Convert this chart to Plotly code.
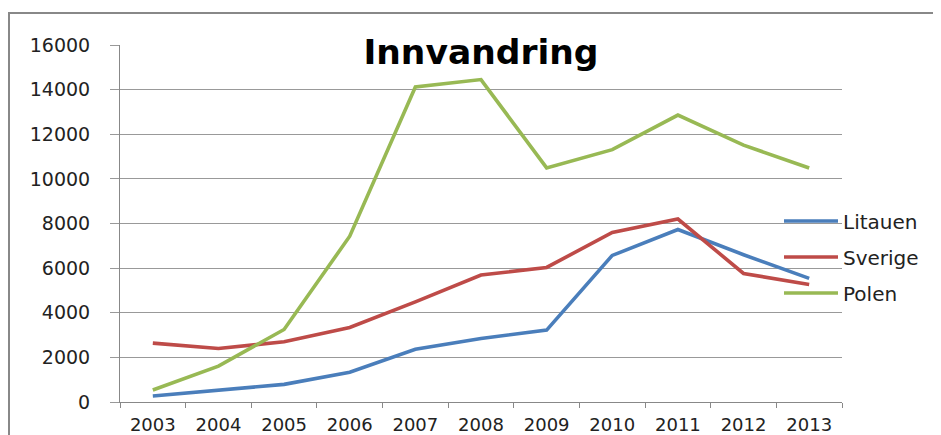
import plotly.graph_objects as go

years = ["2003", "2004", "2005", "2006", "2007", "2008", "2009", "2010", "2011", "2012", "2013"]
litauen = [270, 540, 790, 1330, 2360, 2850, 3220, 6570, 7730, 6600, 5540]
sverige = [2640, 2400, 2700, 3340, 4490, 5690, 6030, 7600, 8200, 5760, 5270]
polen = [540, 1610, 3250, 7430, 14120, 14450, 10490, 11310, 12860, 11510, 10490]
y_ticks = [0, 2000, 4000, 6000, 8000, 10000, 12000, 14000, 16000]
y_tick_text = [str(v) for v in y_ticks]

FONT = "DejaVu Sans"
# page offset of 8px (body margin) is compensated in the figure size/margins
W, H = 933, 427
ML, MR, MT, MB = 112, 99, 37, 33

fig = go.Figure()
for i, (name, vals, col) in enumerate([("Litauen", litauen, "#4A7EBB"),
                                       ("Sverige", sverige, "#BE4B48"),
                                       ("Polen", polen, "#98B954")]):
    fig.add_trace(go.Scatter(x=years, y=vals, name=name, mode="lines",
                             legendgroup=f"g{i}",
                             line=dict(color=col, width=3.6)))

fig.update_layout(
    width=W, height=H,
    margin=dict(l=ML, r=MR, t=MT, b=MB),
    paper_bgcolor="white", plot_bgcolor="white",
    title=dict(text="<b>Innvandring</b>", x=(ML + (W - MR)) / 2 / W, xanchor="center",
               y=1 - 44 / H, yanchor="middle",
               font=dict(family=FONT, size=34.5, color="black")),
    font=dict(family=FONT, size=19, color="#222"),
    showlegend=True,
    legend=dict(x=(779 - 120) / 722, y=(402 - 201.5) / 357, xanchor="left", yanchor="top",
                bgcolor="rgba(0,0,0,0)", font=dict(family=FONT, size=20, color="#222"),
                itemwidth=54, tracegroupgap=7, traceorder="grouped"),
    xaxis=dict(type="category", tickson="boundaries", ticks="outside", ticklen=5,
               tickcolor="#888", showline=True, linecolor="#888", linewidth=1,
               showgrid=False, range=[-0.5, 10.5], ticklabelstandoff=6,
               automargin=False,
               tickfont=dict(family=FONT, size=18, color="#222")),
    yaxis=dict(range=[0, 16000], tickvals=y_ticks, ticktext=y_tick_text,
               showgrid=True, gridcolor="#999",
               gridwidth=1, showline=True, linecolor="#888", linewidth=1,
               ticks="outside", ticklen=9, tickcolor="#999", zeroline=False,
               ticklabelstandoff=16, automargin=False,
               tickfont=dict(family=FONT, size=19, color="#222")),
)
fig.add_shape(type="rect", xref="paper", yref="paper",
              x0=(9 - 120) / 722, x1=1.5, y0=-0.5, y1=(402 - 13) / 357,
              line=dict(color="#888", width=2), fillcolor="rgba(0,0,0,0)", layer="below")
fig.write_html("out.html")
